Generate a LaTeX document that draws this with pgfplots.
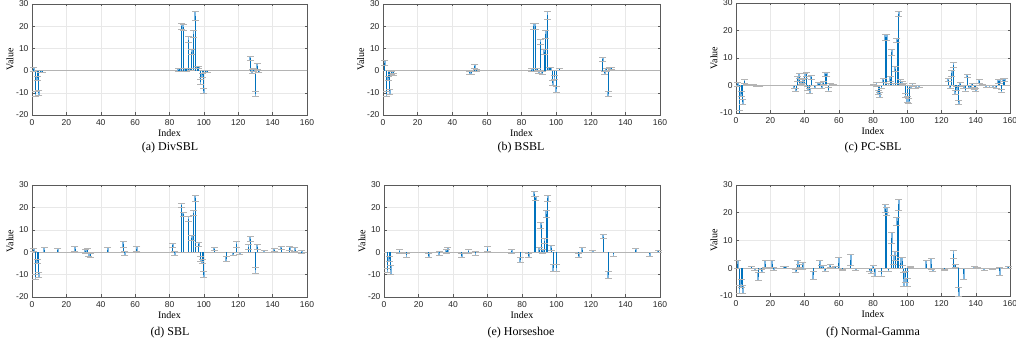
\documentclass[border=0pt]{standalone}
\usepackage{fontspec}
\setmainfont{Liberation Serif}
\newfontfamily\axisfont{Liberation Sans}
\usepackage{pgfplots}
\usepackage{pgfplotstable}
\pgfplotsset{compat=1.18}

\definecolor{mblue}{RGB}{0,114,189}
\definecolor{lblue}{RGB}{125,182,225}
\definecolor{capgray}{RGB}{180,180,180}
\definecolor{boxgray}{RGB}{90,90,90}

% x  mean  std
\pgfplotstableread{
x y e
1 0.5 0.8
2 -10.5 1.0
3 -3.5 0.8
4 -10 1.2
5 -0.3 0.5
6 -0.2 0.4
85 0.4 0.6
86 0.5 0.7
87 20 1.5
88 19.5 1.2
89 0.5 0.6
90 0.5 0.6
91 14 1.3
92 0.6 0.6
93 8.5 1.3
94 16.5 1.5
95 24.5 2
96 1.5 0.6
97 1.5 0.6
98 -5 1.2
99 -2 0.8
100 -9 1.2
101 -0.3 0.4
102 -0.2 0.4
127 5.5 1.0
128 -0.3 0.8
129 0.3 0.6
130 -10.5 1.2
131 2 1.2
132 -0.2 0.5
}\divsbl

\pgfplotstableread{
x y e
1 3.5 1
2 -10.5 1
3 -3.5 1
4 -9.5 1.2
5 -1 0.6
6 -1.5 0.5
50 -1 0.6
51 -1 0.6
53 2 0.8
54 0.3 0.4
86 0.3 0.6
87 20 1.5
88 20 1.2
89 0.5 0.7
90 -0.5 0.7
91 13 1.3
92 -1 0.6
93 8.5 1.2
94 16.5 1.8
95 25 1.8
96 1 0.7
97 1 0.7
98 -5.5 1.2
99 -3 0.8
100 -8.5 1.2
102 0.5 0.5
127 5 0.8
128 -1 0.8
129 0.5 0.6
130 -10.5 1.2
131 1 0.7
132 1 0.6
}\bsbl

\pgfplotstableread{
x y e
1 0.5 0.8
2 -10 0.8
3 -3 0.8
4 -6 0.8
5 1.5 0.8
6 0.3 0.3
7 0.2 0.3
8 0.2 0.3
10 0.1 0.2
12 -0.2 0.2
14 -0.2 0.2
34 -0.5 0.5
35 -1.5 0.6
36 2.5 0.8
37 3.5 0.8
38 1 0.6
39 1.5 0.6
40 3.5 0.8
41 4 0.8
42 -1 0.6
43 -2 0.8
44 3 0.7
46 -0.5 0.5
48 0.5 0.6
49 0.5 0.6
50 -0.5 0.6
51 1 0.6
52 4 0.8
53 4 0.8
54 -1.5 0.7
55 0.3 0.4
57 0.2 0.3
80 0.2 0.3
82 0.5 0.7
83 -2.5 0.8
84 -3.5 0.9
85 -0.5 0.5
86 2 0.7
87 17.5 1
88 17.5 1.2
89 0.3 0.4
90 2.5 0.8
91 12 1
92 0.3 0.4
93 6 0.8
94 16.5 0.8
95 26 0.8
96 1.5 0.6
97 1 0.5
98 0.5 0.4
99 -3.5 0.7
100 -5 1
101 -5.5 1
102 -0.5 0.5
103 0.3 0.5
105 -0.5 0.4
107 -0.2 0.3
124 2 0.6
125 -0.5 0.5
126 4.5 1
127 7.5 0.9
128 -2.5 0.8
129 -1 0.6
130 -6 0.7
131 0.5 0.7
133 -0.5 0.5
134 -1.5 0.6
135 3.5 0.7
136 -0.5 0.5
137 -0.5 0.4
138 0.5 0.4
139 -1 0.5
140 -1.5 0.6
142 1.5 0.6
144 0.3 0.3
146 -0.3 0.3
148 -0.2 0.3
150 -0.3 0.3
152 -0.5 0.4
153 1.5 0.6
154 1.5 0.7
155 -2 0.6
156 2 0.6
157 2 0.6
}\pcsbl

\pgfplotstableread{
x y e
1 1 0.8
2 -11 1
3 -4 1
4 -10 1.2
7 1 1
15 0.8 0.8
25 1.5 1
31 0.5 1
32 0.8 0.8
33 -1 1
34 -1.5 1
44 1 1
53 3.5 1.3
54 -0.5 1
61 1.5 1
82 3 1
83 -0.5 1
87 21 1
88 17 1
91 15 1
93 6.5 1.2
94 17.5 1.2
95 24 1.5
97 3.5 0.8
98 -3 1
99 -4 1
100 -10 1.3
106 1.5 0.8
113 -3 1
117 -0.8 0.8
119 3.5 1.2
121 -0.5 0.5
126 2.5 1
127 6 1.2
130 -8 1.2
131 2.5 1.2
135 0.3 0.5
141 1 0.8
145 2 0.8
150 1.8 0.8
153 1.2 0.8
157 0.2 0.5
}\sbl

\pgfplotstableread{
x y e
2 -8 1
3 -3 1
4 -8 2
9 0.5 1
13 -1.3 0.8
26 -1.5 1
32 -0.5 0.8
36 0.5 1
37 1 1
45 -1.5 0.8
49 0.5 0.8
53 -0.5 0.8
60 1.5 1.2
74 0.5 1
79 -3.5 1
84 -1.5 0.8
87 26 1
88 24 1
90 1 1
91 12 1.5
92 0.5 0.8
93 5 1
94 17 1.5
95 24 1.2
97 2 1
98 -7 1.5
100 -7 1.5
113 -1.5 1
115 1 1
121 0.3 0.5
127 7 1
130 -10 1.5
133 -1 1
146 0.8 0.8
154 -1 1
159 0.5 0.5
}\horseshoe

\pgfplotstableread{
x y e
1 1.5 1.5
2 -7.5 1.5
3 -5.5 1.5
4 -7.5 1.5
9 0.3 0.3
11 -0.3 0.3
13 -3 1.5
15 -1 0.5
17 1.5 1.3
21 1.5 1.3
22 -0.3 0.5
28 0.3 0.3
29 0.3 0.3
35 -1 0.5
36 1.5 1.5
37 1 0.5
39 1 1.3
45 -2.5 1.5
49 1.5 1.5
50 0.5 0.5
51 0.5 0.5
52 -0.5 0.5
55 0.8 0.5
58 0.3 0.3
60 2 2
62 -0.5 0.3
67 3 2
70 -0.3 0.3
78 -0.5 0.5
79 -1 1
80 0.5 0.5
81 -1.5 1.5
85 -2 1
87 21.5 1.5
88 20.5 1.5
89 -0.5 0.5
91 11 2
92 3 1.5
93 4.5 1.5
94 17 1.5
95 23 2
96 2 2
97 2.5 1.5
98 -4 2.5
99 -3 2
100 -5 1.5
102 0.5 0.3
111 1.5 1.5
114 1.5 2
115 -0.5 0.5
122 -0.5 0.3
127 5 1.5
128 1 0.5
130 -8.5 1.5
133 -2 2
139 0.3 0.3
141 0.2 0.3
145 -0.3 0.3
150 -0.2 0.3
154 -1 1.5
159 0.3 0.3
}\normalgamma

\pgfplotsset{
  panel/.style={
    scale only axis,
    xmin=0, xmax=160, ymin=-20, ymax=30,
    xtick={0,20,...,160}, ytick={-20,-10,...,30},
    grid=major,
    grid style={gray!18, line width=0.5pt},
    axis line style={boxgray, line width=0.6pt},
    tick style={boxgray, line width=0.5pt},
    tick align=inside, major tick length=2.5pt,
    tick label style={font=\axisfont\fontsize{8.5}{9}\selectfont, text=black!85},
    /pgf/number format/assume math mode=true,
    xlabel={Index}, ylabel={Value},
    label style={font=\axisfont\fontsize{9.5}{10}\selectfont, text=black!85},
    every axis x label/.style={at={(axis description cs:0.5,0)}, anchor=center, yshift=-18pt},
    every axis y label/.style={at={(axis description cs:-0.08,0.5)}, anchor=center, rotate=90},
    xticklabel style={yshift=-1pt},
    clip=true,
  },
}

\newcommand{\zeroline}{\addplot[capgray, line width=0.7pt, forget plot] coordinates {(0,0) (161,0)};}

% posterior mean as a stem, +/- one std as a light band with grey caps
\newcommand{\stemplot}[1]{%
  \addplot[draw=none, mark=none, forget plot,
    error bars/.cd, y dir=both, y explicit, error mark=none,
    error bar style={lblue, line width=1.8pt}]
    table[x=x, y=y, y error=e] {#1};
  \addplot[ycomb, mblue, line width=0.9pt, mark=none, forget plot]
    table[x=x, y=y] {#1};
  \addplot[only marks, mark=-, mark size=3.5pt, mark options={capgray, line width=0.6pt}, forget plot]
    table[x=x, y expr=\thisrow{y}+\thisrow{e}] {#1};
  \addplot[only marks, mark=-, mark size=3.5pt, mark options={capgray, line width=0.6pt}, forget plot]
    table[x=x, y expr=\thisrow{y}-\thisrow{e}] {#1};
}

\begin{document}
\begin{tikzpicture}[x=1pt, y=1pt]
\useasboundingbox (0,0) rectangle (1016,358);

% top row
\begin{axis}[panel, at={(32pt,243pt)}, anchor=south west, width=275pt, height=111pt]
\zeroline
\stemplot{\divsbl}
\end{axis}
\begin{axis}[panel, at={(383pt,243pt)}, anchor=south west, width=277pt, height=111pt]
\zeroline
\stemplot{\bsbl}
\end{axis}
\begin{axis}[panel, ymin=-10, ytick={-10,0,...,30}, at={(736pt,245pt)}, anchor=south west, width=274pt, height=110pt]
\zeroline
\stemplot{\pcsbl}
\end{axis}

% bottom row
\begin{axis}[panel, at={(32pt,61pt)}, anchor=south west, width=275pt, height=112pt]
\zeroline
\stemplot{\sbl}
\end{axis}
\begin{axis}[panel, at={(384pt,61pt)}, anchor=south west, width=276pt, height=112pt]
\zeroline
\stemplot{\horseshoe}
\end{axis}
\begin{axis}[panel, ymin=-10, ytick={-10,0,...,30}, at={(736pt,62pt)}, anchor=south west, width=274pt, height=111pt]
\zeroline
\stemplot{\normalgamma}
\end{axis}

% sub-captions
\begin{scope}[every node/.style={font=\fontsize{12}{14}\selectfont, anchor=center}]
\node at (170,210) {(a) DivSBL};
\node at (521,210) {(b) BSBL};
\node at (873,210) {(c) PC-SBL};
\node at (170,25) {(d) SBL};
\node at (521,25) {(e) Horseshoe};
\node at (873,25) {(f) Normal-Gamma};
\end{scope}
\end{tikzpicture}
\end{document}
